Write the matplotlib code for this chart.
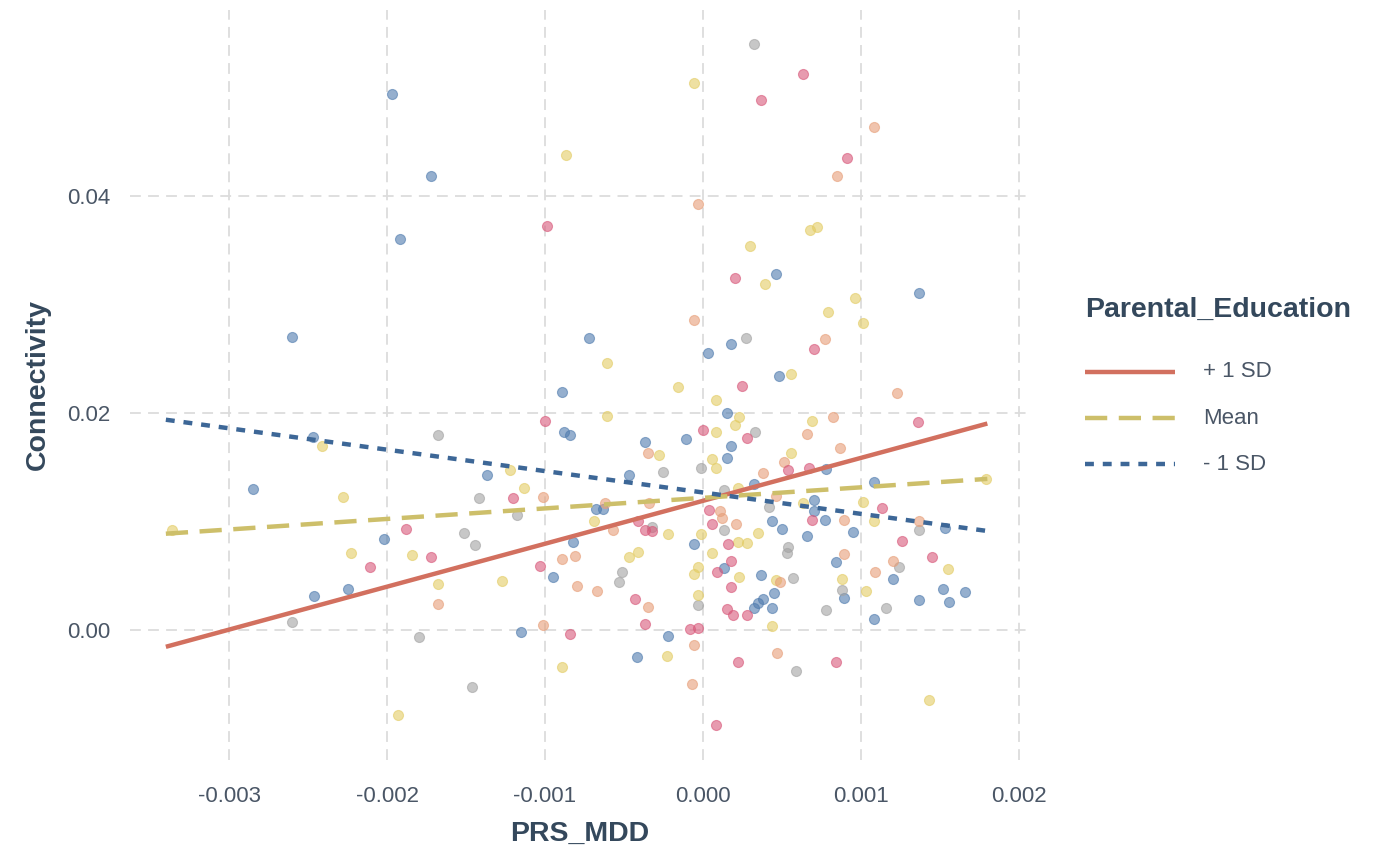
import numpy as np
import matplotlib
matplotlib.use("Agg")
import matplotlib.pyplot as plt
from matplotlib.lines import Line2D
from matplotlib.ticker import FixedLocator, FuncFormatter

plt.rcParams['font.family'] = ['Liberation Sans', 'DejaVu Sans']
plt.rcParams['axes.unicode_minus'] = False

SCALE = 1e-3  # values below are in units of 0.001

# ---- scatter data (PRS_MDD, Connectivity) grouped by point colour ----
blue_x = [-1.97, -1.72, -1.92, -2.60, -0.72, 0.03, 0.46, 1.37, 0.48, -0.89, 0.15, -0.88, -0.84,
          -2.47, -0.37, -0.11, 0.18, 0.18, -1.37, -0.47, 0.15, 0.78, -2.85, 1.08, 0.32, -0.68,
          -0.63, 0.70, 0.70, 0.77, 0.44, 0.50, 0.66, 0.95, 1.53, -2.02, -0.82, -0.06, -0.95,
          0.13, 0.37, 0.84, 1.20, -2.46, -2.25, 0.45, 0.38, 0.35, 0.32, 0.44, 0.89, 1.52, 1.66,
          1.37, 1.56, 1.08, -1.15, -0.22, -0.42]
blue_y = [49.4, 41.8, 36.0, 27.0, 26.9, 25.5, 32.8, 31.0, 23.4, 21.9, 20.0, 18.2, 17.9,
          17.8, 17.3, 17.6, 26.3, 16.9, 14.3, 14.3, 15.8, 14.8, 13.0, 13.6, 13.4, 11.1,
          11.1, 12.0, 10.9, 10.1, 10.0, 9.3, 8.6, 9.0, 9.4, 8.4, 8.1, 7.9, 4.9,
          5.7, 5.0, 6.2, 4.7, 3.1, 3.8, 3.4, 2.8, 2.5, 2.0, 2.0, 2.9, 3.8, 3.5,
          2.7, 2.6, 1.0, -0.2, -0.6, -2.5]

grey_x = [0.32, 0.27, -1.68, 0.33, -0.25, -1.42, -1.18, -0.32, -1.51, -1.44, -0.01, 0.13, 0.42,
          0.13, 0.54, 0.53, 1.37, 1.24, 1.16, -0.51, -0.53, 0.88, -0.03, 0.78, 0.57, -2.60,
          -1.80, 0.59, -1.46]
grey_y = [54.0, 26.9, 17.9, 18.2, 14.5, 12.1, 10.6, 9.5, 8.9, 7.8, 14.9, 12.9, 11.3,
          9.2, 7.6, 7.1, 9.2, 5.8, 2.0, 5.3, 4.4, 3.7, 2.3, 1.8, 4.8, 0.7,
          -0.7, -3.8, -5.3]

yellow_x = [-0.06, -0.87, 0.72, 0.68, 0.30, 0.39, 0.96, 0.79, 1.01, -0.61, 0.56, -0.16, 0.08,
            -0.61, 0.23, 0.69, 0.20, 0.08, -2.41, -0.28, 0.56, 0.06, 0.08, -1.22, -1.13, 0.22,
            -2.28, 0.63, -0.69, -0.22, -0.01, 0.35, 1.01, 1.08, -3.36, 0.22, 0.28, 0.06, -2.23,
            -1.84, -0.41, -0.47, -0.03, -0.06, 0.23, 0.46, 0.88, 1.55, -1.27, -1.68, 1.03,
            -0.03, 0.44, -0.23, -0.89, -1.93, 1.43, 1.79]
yellow_y = [50.4, 43.7, 37.1, 36.8, 35.4, 31.9, 30.6, 29.3, 28.3, 24.6, 23.6, 22.4, 21.2,
            19.7, 19.6, 19.2, 18.9, 18.2, 16.9, 16.1, 16.3, 15.7, 14.9, 14.7, 13.1, 13.1,
            12.2, 11.7, 10.0, 8.8, 8.8, 8.9, 11.8, 10.0, 9.2, 8.1, 8.0, 7.1, 7.1,
            6.9, 7.2, 6.7, 5.8, 5.1, 4.9, 4.6, 4.7, 5.6, 4.5, 4.2, 3.6,
            3.2, 0.3, -2.4, -3.4, -7.9, -6.5, 13.9]

orange_x = [1.08, 0.85, -0.03, -0.06, 0.77, 1.23, 0.82, -0.35, 0.66, 0.87, 0.51, 0.38, -1.01,
            -0.62, -0.34, 0.46, 0.11, 0.12, 0.21, 0.89, 1.37, -0.57, -0.81, -0.89, 0.89, 1.20,
            1.09, -0.80, -0.67, -1.68, -0.35, 0.49, -1.01, -0.06, 0.47, -0.07]
orange_y = [46.3, 41.8, 39.2, 28.5, 26.8, 21.8, 19.6, 16.3, 18.0, 16.7, 15.5, 14.4, 12.2,
            11.7, 11.7, 12.3, 10.9, 10.3, 9.7, 10.1, 10.0, 9.2, 6.8, 6.5, 7.0, 6.3,
            5.3, 4.0, 3.6, 2.4, 2.1, 4.4, 0.4, -1.4, -2.1, -5.0]

red_x = [0.63, 0.37, 0.91, -0.99, 0.20, 0.70, 0.25, 1.36, -1.00, 0.00, 0.28, 0.54, 0.67, 1.13,
         -1.20, -0.41, -0.37, -0.32, -1.88, -1.72, -2.11, 0.04, 0.06, 0.69, 0.16, 1.26, 1.45,
         -1.03, 0.18, 0.09, 0.18, -0.43, -0.37, 0.15, 0.19, 0.28, -0.03, -0.08, -0.84, 0.22,
         0.84, 0.08]
red_y = [51.2, 48.8, 43.5, 37.2, 32.4, 25.9, 22.5, 19.1, 19.2, 18.4, 17.7, 14.7, 14.9, 11.2,
         12.1, 10.0, 9.2, 9.1, 9.3, 6.7, 5.8, 11.0, 9.7, 10.1, 7.9, 8.2, 6.7,
         5.9, 6.3, 5.3, 3.9, 2.8, 0.5, 1.9, 1.4, 1.4, 0.2, 0.1, -0.4, -3.0,
         -3.0, -8.8]

# ---- simple-slope lines (endpoints) ----
line_x = [-3.40, 1.80]
plus_sd = [-1.57, 19.0]
mean_line = [8.85, 13.9]
minus_sd = [19.35, 9.1]
legend_labels = ["+ 1 SD", "Mean", "- 1 SD"]

x_ticks = [-3, -2, -1, 0, 1, 2]
y_ticks = [0, 20, 40]

TXT = '#34485C'
TICK = '#4A5666'
C_PLUS, C_MEAN, C_MINUS = '#D2705F', '#CDBF6A', '#3D6797'
D_MEAN, D_MINUS = (5, 2.6), (2.0, 2.0)

# ---- figure ----
W, H = 1380, 848
fig = plt.figure(figsize=(13.8, 8.48), dpi=100)
ax = fig.add_axes([130/W, 1-760/H, 900/W, 750/H])

groups = [
    (blue_x, blue_y, '#4F7BAE'),
    (grey_x, grey_y, '#A2A2A2'),
    (yellow_x, yellow_y, '#E3CC64'),
    (orange_x, orange_y, '#E79E78'),
    (red_x, red_y, '#D8587A'),
]
for gx, gy, col in groups:
    ax.scatter(np.array(gx)*SCALE, np.array(gy)*SCALE, s=52, color=col, alpha=0.6,
               edgecolors=col, linewidths=0.8, zorder=3)

lx = np.array(line_x)*SCALE
ax.plot(lx, np.array(plus_sd)*SCALE, color=C_PLUS, lw=3.2, solid_capstyle='butt', zorder=4)
ax.plot(lx, np.array(mean_line)*SCALE, color=C_MEAN, lw=3.2, dashes=D_MEAN, zorder=4)
ax.plot(lx, np.array(minus_sd)*SCALE, color=C_MINUS, lw=3.2, dashes=D_MINUS, zorder=4)

ax.set_xlim(-3.627*SCALE, 2.07*SCALE)
ax.set_ylim(-12.0*SCALE, 57.1*SCALE)

ax.xaxis.set_major_locator(FixedLocator(np.array(x_ticks)*SCALE))
ax.yaxis.set_major_locator(FixedLocator(np.array(y_ticks)*SCALE))
ax.xaxis.set_major_formatter(FuncFormatter(lambda v, p: f"{v:.3f}".replace("-0.000", "0.000")))
ax.yaxis.set_major_formatter(FuncFormatter(lambda v, p: f"{v:.2f}".replace("-0.00", "0.00")))

for s in ax.spines.values():
    s.set_visible(False)
ax.tick_params(axis='both', length=0, labelsize=16, labelcolor=TICK)
ax.tick_params(axis='x', pad=19)
ax.tick_params(axis='y', pad=14)
ax.grid(True, color='#DCDCDC', lw=1.3, dashes=(6, 4))
ax.set_axisbelow(True)

ax.set_xlabel("PRS_MDD", fontsize=20.5, fontweight='bold', color=TXT, labelpad=10)
ax.set_ylabel("Connectivity", fontsize=20.5, fontweight='bold', color=TXT, labelpad=12)

# ---- legend (placed manually in figure pixels) ----
fig.text(1085/W, 1-310/H, "Parental_Education", fontsize=20.5, fontweight='bold',
         color=TXT, ha='left', va='center')
styles = [dict(color=C_PLUS, lw=3.2, solid_capstyle='butt'),
          dict(color=C_MEAN, lw=3.2, dashes=D_MEAN),
          dict(color=C_MINUS, lw=3.2, dashes=D_MINUS)]
ys = [372, 418, 464]
for lab, st, yy in zip(legend_labels, styles, ys):
    fig.add_artist(Line2D([1085/W, 1175/W], [1-yy/H, 1-yy/H], transform=fig.transFigure, **st))
    fig.text(1203/W, 1-yy/H, lab, fontsize=16, color=TICK, ha='left', va='center')

fig.savefig("out.png", dpi=100)
